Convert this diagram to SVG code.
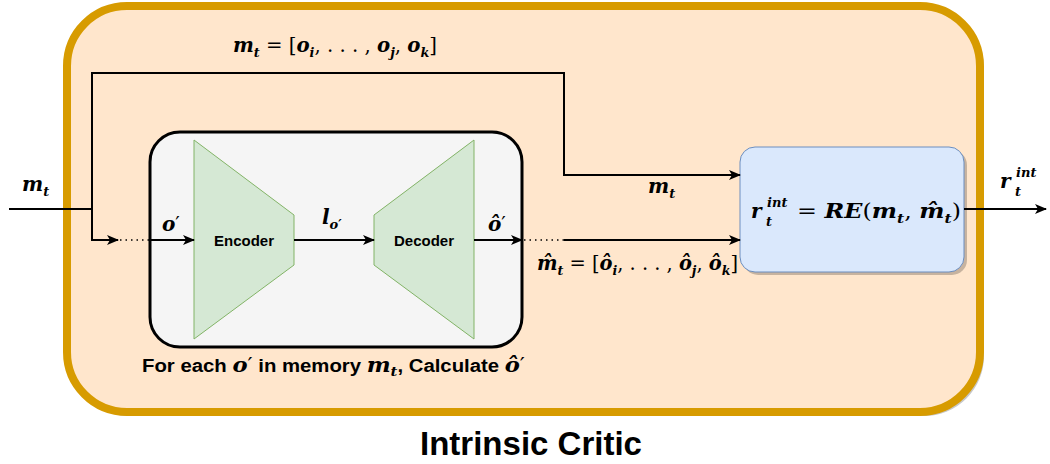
<svg xmlns="http://www.w3.org/2000/svg" width="1050" height="464" viewBox="0 0 1050 464">
<style>
.m{font-family:"DejaVu Serif","Liberation Serif",serif;font-style:italic;font-weight:bold;font-size:20px;fill:#000}
.n{font-style:normal;font-weight:normal}
.s{font-size:13px}
.lbl{font-family:"Liberation Sans",Arial,sans-serif;font-weight:bold;fill:#000}
.ln{fill:none;stroke:#000;stroke-width:2}
.dot{fill:none;stroke:#000;stroke-width:1.3;stroke-dasharray:1.5 4}
</style>
<defs>
<marker id="ah" viewBox="0 0 12 10" refX="11" refY="5" markerWidth="12" markerHeight="10" markerUnits="userSpaceOnUse" orient="auto">
<path d="M0,0 L12,5 L0,10 L3,5 Z" fill="#000"/>
</marker>
</defs>
<g id="critic">
<rect x="70" y="9" width="914" height="407" rx="60" fill="#000" opacity="0.22"/>
<rect x="67" y="6" width="913" height="406" rx="60" fill="#ffe6cc" stroke="#d79b00" stroke-width="8"/>
</g>
<g id="ae-box">
<rect x="150" y="132" width="372" height="215" rx="30" fill="#f5f5f5" stroke="#000" stroke-width="3"/>
</g>
<g id="encoder">
<path d="M194,140 L294,215 L294,265 L194,339 Z" fill="#d5e8d4" stroke="#82b366" stroke-width="1"/>
<text class="lbl" x="244" y="246" font-size="15" text-anchor="middle">Encoder</text>
</g>
<g id="decoder">
<path d="M374,215 L474,140 L474,339 L374,265 Z" fill="#d5e8d4" stroke="#82b366" stroke-width="1"/>
<text class="lbl" x="424" y="246" font-size="15" text-anchor="middle">Decoder</text>
</g>
<g id="re">
<rect x="743" y="150" width="224" height="125" rx="15" fill="#000" opacity="0.22"/>
<rect x="740" y="147" width="224" height="125" rx="15" fill="#dae8fc" stroke="#6c8ebf" stroke-width="1"/>
<text class="m" x="751" y="218">r</text>
<text class="m s" x="767" y="207">int</text>
<text class="m s" x="766" y="226">t</text>
<text class="m" x="797" y="218" textLength="164" lengthAdjust="spacingAndGlyphs"><tspan class="n">= </tspan>RE<tspan class="n">(</tspan>m<tspan class="s" dy="5">t</tspan><tspan class="n" dy="-5">, </tspan>m̂<tspan class="s" dy="5">t</tspan><tspan class="n" dy="-5">)</tspan></text>
</g>
<g id="connectors">
<path class="ln" d="M9,209 L92,209"/>
<path class="ln" d="M92,209 L92,73 L564,73 L564,175 L740,175" marker-end="url(#ah)"/>
<path class="ln" d="M92,209 L92,240 L118,240" marker-end="url(#ah)"/>
<path class="dot" d="M120,240 L150,240"/>
<path class="ln" d="M150,240 L194,240" marker-end="url(#ah)"/>
<path class="ln" d="M294,240 L374,240" marker-end="url(#ah)"/>
<path class="ln" d="M474,240 L522,240" marker-end="url(#ah)"/>
<path class="dot" d="M524,240 L564,240"/>
<path class="ln" d="M564,240 L740,240" marker-end="url(#ah)"/>
<path class="ln" d="M964,209 L1046,209" marker-end="url(#ah)"/>
</g>
<g id="labels">
<text class="m" x="233" y="52" textLength="204" lengthAdjust="spacingAndGlyphs">m<tspan class="s" dy="5">t</tspan><tspan class="n" dy="-5"> = [</tspan>o<tspan class="s" dy="5">i</tspan><tspan class="n" dy="-5">, . . . , </tspan>o<tspan class="s" dy="5">j</tspan><tspan class="n" dy="-5">, </tspan>o<tspan class="s" dy="5">k</tspan><tspan class="n" dy="-5">]</tspan></text>
<text class="m" x="22" y="191">m<tspan class="s" dy="5">t</tspan></text>
<text class="m" x="162" y="231">o<tspan class="n">′</tspan></text>
<text class="m" x="322" y="224">l<tspan class="s" dy="5">o′</tspan></text>
<text class="m" x="488" y="231">ô<tspan class="n">′</tspan></text>
<text class="m" x="648" y="193">m<tspan class="s" dy="5">t</tspan></text>
<text class="m" x="537" y="270" textLength="201" lengthAdjust="spacingAndGlyphs">m̂<tspan class="s" dy="5">t</tspan><tspan class="n" dy="-5"> = [</tspan>ô<tspan class="s" dy="5">i</tspan><tspan class="n" dy="-5">, . . . , </tspan>ô<tspan class="s" dy="5">j</tspan><tspan class="n" dy="-5">, </tspan>ô<tspan class="s" dy="5">k</tspan><tspan class="n" dy="-5">]</tspan></text>
<text class="m" x="1000" y="188">r</text>
<text class="m s" x="1016" y="177">int</text>
<text class="m s" x="1015" y="196">t</text>
<text class="lbl" x="142" y="372" font-size="18" textLength="383" lengthAdjust="spacingAndGlyphs">For each <tspan class="m" font-size="19">o<tspan class="n">′</tspan></tspan> in memory <tspan class="m" font-size="19">m<tspan font-size="13" dy="4">t</tspan></tspan><tspan dy="-4">, Calculate </tspan><tspan class="m" font-size="19">ô<tspan class="n">′</tspan></tspan></text>
<text class="lbl" x="531" y="455" font-size="33" text-anchor="middle">Intrinsic Critic</text>
</g>
</svg>
